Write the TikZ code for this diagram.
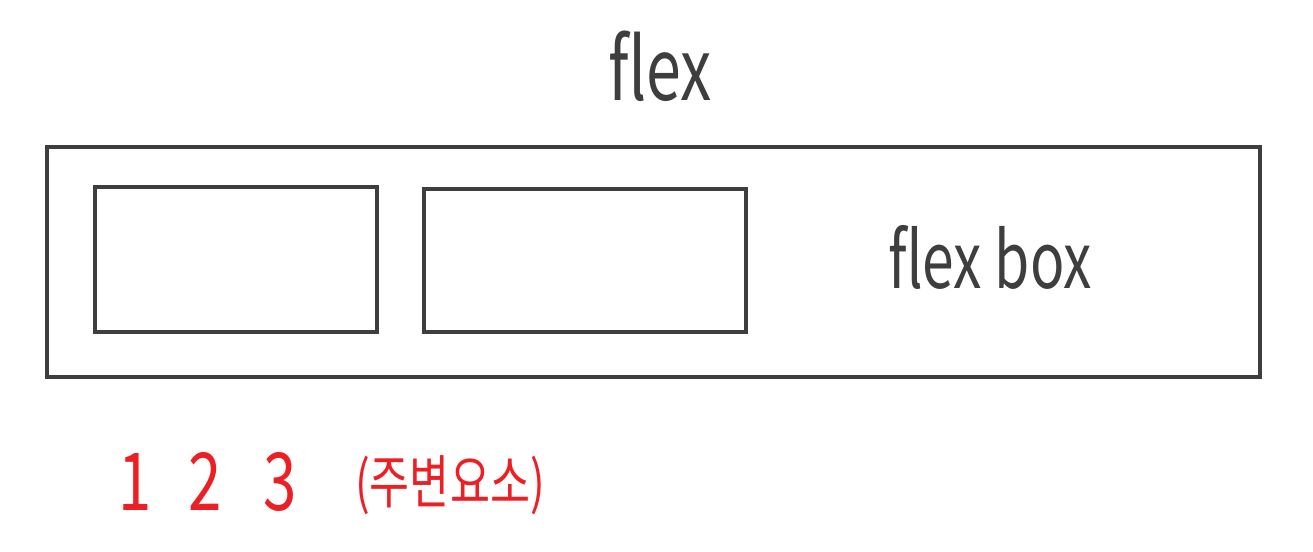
\documentclass[tikz,border=0pt]{standalone}
\usepackage{fontspec}
\setmainfont{Noto Sans CJK KR}
\usepackage{tikz}
\usetikzlibrary{positioning}
\definecolor{pencilgrey}{RGB}{62,62,62}
\definecolor{markerred}{RGB}{236,32,36}
\tikzset{
  flexbox/.style={draw=pencilgrey,line width=3.5pt,rectangle,inner sep=0pt},
  itembox/.style={draw=pencilgrey,line width=3.5pt,rectangle,inner sep=0pt},
  handlabel/.style={text=pencilgrey,inner sep=0pt,anchor=base,xscale=0.73,transform shape,
    font=\fontsize{86}{86}\selectfont},
  redlabel/.style={text=markerred,inner sep=0pt,anchor=base,xscale=0.75,transform shape,
    font=\fontsize{80}{80}\selectfont}
}
\begin{document}
\begin{tikzpicture}[x=1pt,y=-1pt]
  \useasboundingbox (0,0) rectangle (1313,551);
  % container and its two items
  \node[flexbox,minimum width=1213pt,minimum height=230pt] (container) at (653.5,262) {};
  \node[itembox,minimum width=282pt,minimum height=145pt] (itemone) at (236,259.5) {};
  \node[itembox,minimum width=322pt,minimum height=143pt] (itemtwo) at (585,260.5) {};
  % labels
  \node[handlabel] (flextitle) at (660,100) {flex};
  \node[handlabel,font=\fontsize{78}{78}\selectfont] (boxlabel) at (990,288) {flex box};
  \node[redlabel] (numone) at (135,510) {1};
  \node[redlabel] (numtwo) at (205,510) {2};
  \node[redlabel] (numthree) at (280,510) {3};
  \node[redlabel,font=\fontsize{58}{58}\selectfont] (around) at (450,503) {(주변요소)};
\end{tikzpicture}
\end{document}
